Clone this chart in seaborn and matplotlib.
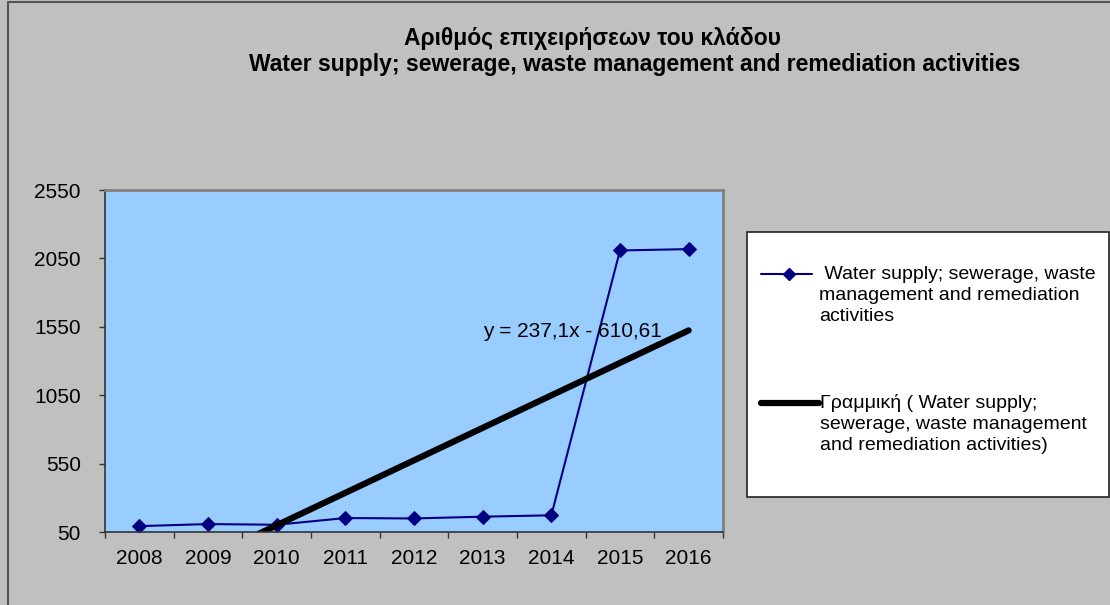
import numpy as np
import pandas as pd
import matplotlib
matplotlib.use("Agg")
import matplotlib.pyplot as plt
from matplotlib.patches import Rectangle
from matplotlib.lines import Line2D
import seaborn as sns

years = ["2008", "2009", "2010", "2011", "2012", "2013", "2014", "2015", "2016"]
firms = [93, 108, 103, 152, 149, 162, 172, 2108, 2118]
y_ticks = [50, 550, 1050, 1550, 2050, 2550]
title_lines = ["Αριθμός επιχειρήσεων του κλάδου",
               "Water supply; sewerage, waste management and remediation activities"]
series_label = " Water supply; sewerage, waste\nmanagement and remediation\nactivities"
trend_label = "Γραμμική ( Water supply;\nsewerage, waste management\nand remediation activities)"
equation = "y = 237,1x - 610,61"

sns.set_theme(style="white")
plt.rcParams['font.family'] = ['Liberation Sans', 'DejaVu Sans']
plt.rcParams['text.color'] = 'black'
plt.rcParams['xtick.color'] = 'black'
plt.rcParams['ytick.color'] = 'black'

W, H = 1110, 605
fig = plt.figure(figsize=(W / 100, H / 100), dpi=100)
fig.patch.set_facecolor("#C0C0C0")

def fx(px):
    return px / W

def fy(py):
    return 1 - py / H

L, R, T, B = 105, 723, 190, 532
ax = fig.add_axes([fx(L), fy(B), fx(R) - fx(L), fy(T) - fy(B)])
ax.set_facecolor("#99CCFF")

df = pd.DataFrame({"pos": np.arange(len(years)), "firms": firms})
sns.lineplot(data=df, x="pos", y="firms", ax=ax, color="#000080", lw=1.5,
             marker="D", markersize=7, markeredgecolor="#000080", markerfacecolor="#000080")

# linear trend (Excel uses x = 1..n)
xs = np.arange(1, len(years) + 1)
slope, intercept = np.polyfit(xs, firms, 1)
trend = slope * xs + intercept
sns.lineplot(x=df["pos"], y=trend, ax=ax, color="black", lw=4.5)

ax.set_xlim(-0.5, len(years) - 0.5)
ax.set_ylim(y_ticks[0], y_ticks[-1])
ax.set_yticks(y_ticks)
ax.set_yticklabels([str(v) for v in y_ticks], fontsize=15)
ax.set_xticks(np.arange(len(years)))
ax.set_xticklabels(years, fontsize=15)
ax.set_xticks(np.arange(len(years) + 1) - 0.5, minor=True)
ax.tick_params(axis="x", which="major", length=0, pad=12)
ax.tick_params(axis="x", which="minor", length=4.5, width=1, color="#333333", direction="out", bottom=True)
ax.tick_params(axis="y", which="major", length=4.5, width=1, color="#333333", direction="out", left=True, pad=13)
ax.set_xlabel("")
ax.set_ylabel("")
for s in ["left", "bottom"]:
    ax.spines[s].set_color("#333333")
    ax.spines[s].set_linewidth(1.2)
for s in ["top", "right"]:
    ax.spines[s].set_color("#808080")
    ax.spines[s].set_linewidth(2)

ax.text(5.0, 1515, equation, fontsize=15, ha="left", va="center")

# title
fig.text(fx(593), fy(38), title_lines[0], ha="center", va="center", fontsize=16.5, fontweight="bold")
fig.text(fx(635), fy(65), title_lines[1], ha="center", va="center", fontsize=16.5, fontweight="bold")

# legend box
fig.patches.append(Rectangle((fx(747), fy(497)), fx(1109) - fx(747), fy(232) - fy(497),
                             transform=fig.transFigure, facecolor="white",
                             edgecolor="#222222", lw=1.2))
fig.lines.append(Line2D([fx(761), fx(812)], [fy(273.5), fy(273.5)], transform=fig.transFigure,
                        color="#000080", lw=1.5))
fig.lines.append(Line2D([fx(789)], [fy(273.5)], transform=fig.transFigure, marker="D",
                        markersize=6, color="#000080", lw=0))
fig.text(fx(819), fy(266), series_label, ha="left", va="top", fontsize=14, linespacing=1.3)
fig.lines.append(Line2D([fx(761), fx(819)], [fy(403), fy(403)], transform=fig.transFigure,
                        color="black", lw=4.5))
fig.text(fx(820), fy(394), trend_label, ha="left", va="top", fontsize=14, linespacing=1.3)

# outer border (left and top edges)
fig.lines.append(Line2D([fx(7.5), fx(7.5)], [0, fy(1.5)], transform=fig.transFigure,
                        color="#555555", lw=1.5))
fig.lines.append(Line2D([fx(7.5), 1], [fy(1.5), fy(1.5)], transform=fig.transFigure,
                        color="#555555", lw=1.5))

fig.savefig("out.png", dpi=100, facecolor=fig.get_facecolor())
